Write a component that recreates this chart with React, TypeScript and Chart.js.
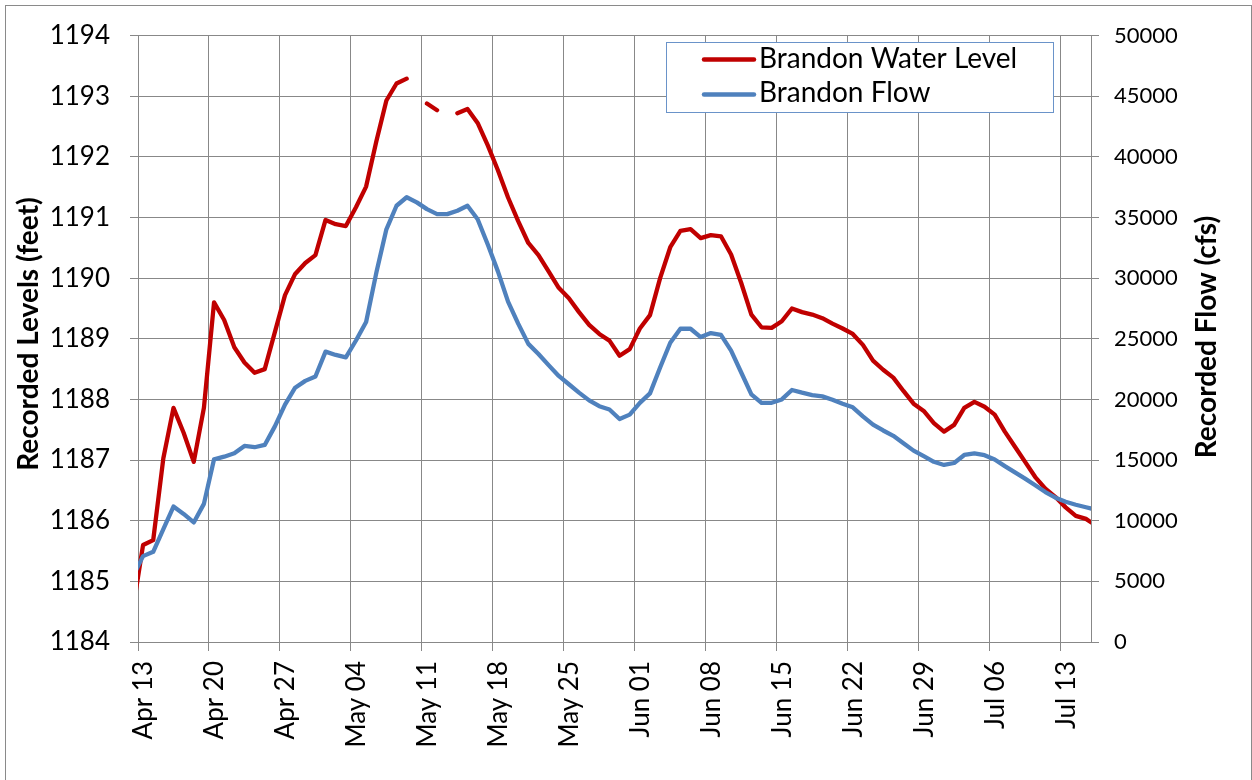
import React, { useEffect, useRef } from 'react';
import { Chart, registerables } from 'chart.js';

Chart.register(...registerables);

// One entry per day (readings at mid-day). Apr 12 and Jul 16 fall partly outside the axis.
const dates = [
  'Apr 12', 'Apr 13', 'Apr 14', 'Apr 15', 'Apr 16', 'Apr 17', 'Apr 18', 'Apr 19', 'Apr 20', 'Apr 21',
  'Apr 22', 'Apr 23', 'Apr 24', 'Apr 25', 'Apr 26', 'Apr 27', 'Apr 28', 'Apr 29', 'Apr 30', 'May 01',
  'May 02', 'May 03', 'May 04', 'May 05', 'May 06', 'May 07', 'May 08', 'May 09', 'May 10', 'May 11',
  'May 12', 'May 13', 'May 14', 'May 15', 'May 16', 'May 17', 'May 18', 'May 19', 'May 20', 'May 21',
  'May 22', 'May 23', 'May 24', 'May 25', 'May 26', 'May 27', 'May 28', 'May 29', 'May 30', 'May 31',
  'Jun 01', 'Jun 02', 'Jun 03', 'Jun 04', 'Jun 05', 'Jun 06', 'Jun 07', 'Jun 08', 'Jun 09', 'Jun 10',
  'Jun 11', 'Jun 12', 'Jun 13', 'Jun 14', 'Jun 15', 'Jun 16', 'Jun 17', 'Jun 18', 'Jun 19', 'Jun 20',
  'Jun 21', 'Jun 22', 'Jun 23', 'Jun 24', 'Jun 25', 'Jun 26', 'Jun 27', 'Jun 28', 'Jun 29', 'Jun 30',
  'Jul 01', 'Jul 02', 'Jul 03', 'Jul 04', 'Jul 05', 'Jul 06', 'Jul 07', 'Jul 08', 'Jul 09', 'Jul 10',
  'Jul 11', 'Jul 12', 'Jul 13', 'Jul 14', 'Jul 15', 'Jul 16',
];

const waterLevel: (number | null)[] = [
  1184.54, 1185.6, 1185.68, 1187.03, 1187.86, 1187.45, 1186.97, 1187.86, 1189.6, 1189.31,
  1188.86, 1188.61, 1188.44, 1188.5, 1189.11, 1189.72, 1190.07, 1190.25, 1190.38, 1190.96,
  1190.89, 1190.86, 1191.17, 1191.51, 1192.25, 1192.93, 1193.21, 1193.29, null, 1192.88,
  1192.77, null, 1192.72, 1192.79, 1192.56, 1192.19, 1191.78, 1191.33, 1190.94, 1190.58,
  1190.38, 1190.11, 1189.84, 1189.67, 1189.44, 1189.23, 1189.08, 1188.97, 1188.72, 1188.83,
  1189.17, 1189.39, 1190.0, 1190.51, 1190.78, 1190.81, 1190.66, 1190.71, 1190.69, 1190.39,
  1189.92, 1189.4, 1189.19, 1189.18, 1189.29, 1189.5, 1189.44, 1189.4, 1189.34, 1189.25,
  1189.17, 1189.08, 1188.9, 1188.64, 1188.49, 1188.36, 1188.14, 1187.93, 1187.81, 1187.61,
  1187.47, 1187.58, 1187.86, 1187.96, 1187.88, 1187.75, 1187.47, 1187.22, 1186.97, 1186.72,
  1186.53, 1186.39, 1186.22, 1186.08, 1186.03, 1185.92,
];

const flow: number[] = [
  5420, 7080, 7440, 9310, 11170, 10560, 9860, 11390, 15060, 15280,
  15560, 16170, 16060, 16250, 17780, 19580, 20970, 21530, 21890, 23940,
  23670, 23470, 24860, 26390, 30420, 34030, 35970, 36670, 36250, 35690,
  35280, 35280, 35560, 35970, 34860, 32780, 30560, 28060, 26250, 24580,
  23750, 22830, 21940, 21250, 20560, 19920, 19440, 19170, 18390, 18750,
  19720, 20500, 22640, 24670, 25830, 25830, 25140, 25470, 25330, 24030,
  22220, 20420, 19720, 19720, 20000, 20780, 20560, 20360, 20250, 19980,
  19650, 19350, 18610, 17920, 17440, 17000, 16390, 15780, 15330, 14860,
  14600, 14760, 15420, 15560, 15400, 15050, 14500, 13980, 13470, 12930,
  12360, 11900, 11560, 11320, 11110, 10900,
];

// Axis ticks: days counted from Apr 13 (00:00)
const tickDays = [0, 7, 14, 21, 28, 35, 42, 49, 56, 63, 70, 77, 84, 91];
const tickLabels = [
  'Apr 13', 'Apr 20', 'Apr 27', 'May 04', 'May 11', 'May 18', 'May 25',
  'Jun 01', 'Jun 08', 'Jun 15', 'Jun 22', 'Jun 29', 'Jul 06', 'Jul 13',
];

const seriesLabels = ['Brandon Water Level', 'Brandon Flow'];
const axisTitles = ['Recorded Levels (feet)', 'Recorded Flow (cfs)'];

const RED = '#C00000';
const BLUE = '#4F81BD';
const GRID = '#888888';
const FONT = 'Lato, "Open Sans", sans-serif';

const decorPlugin = {
  id: 'decor',
  beforeDraw(chart: any) {
    const { ctx, width, height } = chart;
    ctx.save();
    ctx.fillStyle = '#ffffff';
    ctx.fillRect(0, 0, width, height);
    ctx.restore();
  },
  afterDraw(chart: any) {
    const { ctx } = chart;
    ctx.save();
    // outer chart border
    ctx.strokeStyle = '#8A8A8A';
    ctx.lineWidth = 1;
    ctx.strokeRect(5.5, 5.5, 1246, 800);

    // axis titles (both read bottom to top)
    ctx.fillStyle = '#000';
    ctx.font = `bold 28px ${FONT}`;
    ctx.textAlign = 'center';
    ctx.textBaseline = 'middle';
    ctx.save();
    ctx.translate(29, 334);
    ctx.rotate(-Math.PI / 2);
    ctx.fillText(axisTitles[0], 0, 0);
    ctx.restore();
    ctx.save();
    ctx.translate(1206.5, 337);
    ctx.rotate(-Math.PI / 2);
    ctx.fillText(axisTitles[1], 0, 0);
    ctx.restore();

    // legend
    ctx.fillStyle = '#ffffff';
    ctx.fillRect(666.5, 42.5, 387, 70);
    ctx.strokeStyle = '#6A93C9';
    ctx.lineWidth = 1;
    ctx.strokeRect(666.5, 42.5, 387, 70);
    const colors = [RED, BLUE];
    const rowY = [59.5, 94.5];
    const baseY = [68, 102];
    ctx.lineCap = 'round';
    ctx.lineWidth = 4.5;
    ctx.font = `28px ${FONT}`;
    ctx.textAlign = 'left';
    ctx.textBaseline = 'alphabetic';
    for (let i = 0; i < 2; i++) {
      ctx.strokeStyle = colors[i];
      ctx.beginPath();
      ctx.moveTo(704, rowY[i]);
      ctx.lineTo(754, rowY[i]);
      ctx.stroke();
      ctx.fillStyle = '#000';
      ctx.fillText(seriesLabels[i], 759, baseY[i]);
    }
    ctx.restore();
  },
};

export default function App() {
  const canvasRef = useRef<HTMLCanvasElement | null>(null);

  useEffect(() => {
    document.body.style.margin = '0';
    const canvas = canvasRef.current;
    if (!canvas) return;
    const xs = dates.map((_, i) => i - 0.5);
    const chart = new Chart(canvas, {
      type: 'line',
      data: {
        datasets: [
          {
            label: seriesLabels[0],
            data: xs.map((x, i) => ({ x, y: waterLevel[i] })) as any,
            yAxisID: 'y',
            borderColor: RED,
            backgroundColor: RED,
            borderWidth: 4.3,
            pointRadius: 0,
            tension: 0,
            spanGaps: false,
            borderCapStyle: 'round',
            borderJoinStyle: 'round',
            clip: 0,
            order: 2,
          } as any,
          {
            label: seriesLabels[1],
            data: xs.map((x, i) => ({ x, y: flow[i] })),
            yAxisID: 'y1',
            borderColor: BLUE,
            backgroundColor: BLUE,
            borderWidth: 4.3,
            pointRadius: 0,
            tension: 0,
            borderCapStyle: 'round',
            borderJoinStyle: 'round',
            clip: 0,
            order: 1,
          } as any,
        ],
      },
      options: {
        responsive: false,
        animation: false,
        devicePixelRatio: 1,
        layout: { padding: { top: 34, left: 0, right: 0, bottom: 0 } },
        plugins: {
          legend: { display: false },
          tooltip: { enabled: false },
        },
        scales: {
          x: {
            type: 'linear',
            min: 0,
            max: 94,
            afterBuildTicks: (scale: any) => {
              scale.ticks = tickDays.map((v) => ({ value: v }));
            },
            afterFit: (scale: any) => {
              scale.height = 138;
            },
            ticks: {
              autoSkip: false,
              minRotation: 90,
              maxRotation: 90,
              padding: 10,
              labelOffset: 6,
              color: '#000',
              font: { family: FONT, size: 26 },
              callback: (_v: any, i: number) => tickLabels[i],
            },
            grid: { color: GRID, lineWidth: 1, tickLength: 9 },
            border: { color: GRID, width: 1 },
          },
          y: {
            position: 'left',
            min: 1184,
            max: 1194,
            afterFit: (scale: any) => {
              scale.width = 138;
            },
            ticks: {
              stepSize: 1,
              padding: 20,
              color: '#000',
              font: { family: FONT, size: 26 },
              callback: (v: any) => String(v),
            },
            grid: { color: GRID, lineWidth: 1, tickLength: 8 },
            border: { color: GRID, width: 1 },
          },
          y1: {
            position: 'right',
            min: 0,
            max: 50000,
            afterFit: (scale: any) => {
              scale.width = 161;
            },
            ticks: {
              stepSize: 5000,
              padding: 15,
              color: '#000',
              font: { family: FONT, size: 22 },
              callback: (v: any) => String(v),
            },
            grid: { drawOnChartArea: false, color: GRID, lineWidth: 1, tickLength: 8 },
            border: { color: GRID, width: 1 },
          },
        },
      } as any,
      plugins: [decorPlugin],
    });
    return () => chart.destroy();
  }, []);

  return (
    <div style={{ position: 'fixed', left: 0, top: 0, width: 1252, height: 780 }}>
      <canvas ref={canvasRef} width={1252} height={780} style={{ display: 'block' }} />
    </div>
  );
}
